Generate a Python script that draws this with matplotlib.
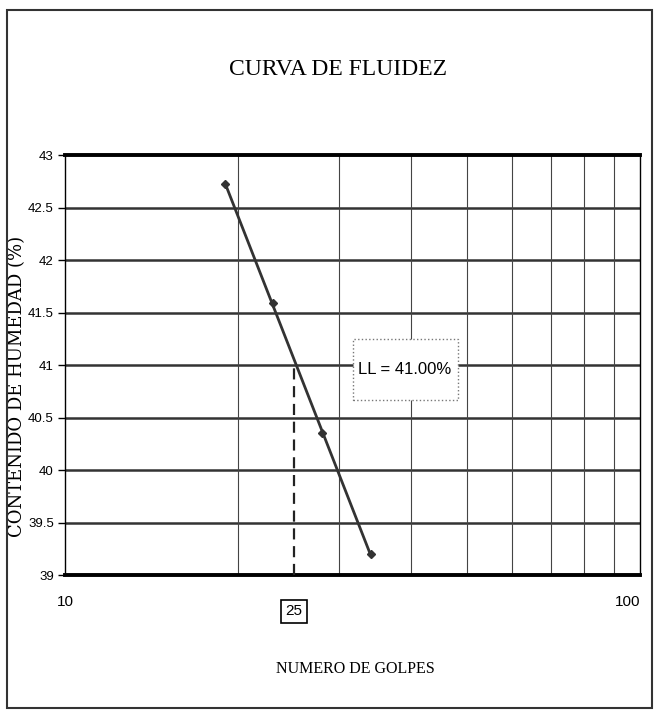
import matplotlib
matplotlib.use("agg")
import matplotlib.pyplot as plt
from matplotlib.patches import Rectangle
import numpy as np

# ensayo de limite liquido
golpes = [19, 23, 28, 34]
humedad = [42.72, 41.59, 40.35, 39.2]
ll_golpes = 25
ll_valor = 41.00
y_ticks = [39, 39.5, 40, 40.5, 41, 41.5, 42, 42.5, 43]
x_grid = [20, 30, 40, 50, 60, 70, 80, 90]

fig = plt.figure(figsize=(6.55, 7.13), dpi=100)
ax = fig.add_axes([0.0992, 0.1935, 0.8778, 0.589])

ax.set_xscale("log")
ax.set_xlim(10, 100)
ax.set_ylim(39, 43)

# grid
for v in y_ticks[1:-1]:
    ax.axhline(v, color="#333333", lw=1.8, zorder=1)
for v in x_grid:
    ax.axvline(v, color="#444444", lw=0.8, zorder=1)

# linea de tendencia (ajuste en escala log)
a, b = np.polyfit(np.log10(golpes), humedad, 1)
xs = np.array([golpes[0], golpes[-1]])
ax.plot(xs, a * np.log10(xs) + b, color="#333333", lw=2, zorder=3)
ax.plot(golpes, humedad, "D", color="#333333", ms=4, zorder=4)

ax.plot([ll_golpes, ll_golpes], [39, ll_valor], color="#222222", lw=1.6,
        ls=(0, (5, 3)), zorder=3)

# cuadro LL
ax.add_patch(Rectangle((0.501, 0.417), 0.182, 0.145, transform=ax.transAxes,
                       fc="white", ec="#777777", ls=":", lw=1, zorder=5))
ax.text(0.59, 0.49, "LL = %.2f%%" % ll_valor, transform=ax.transAxes, fontsize=12,
        family="Liberation Sans", ha="center", va="center", zorder=6)

ax.spines["top"].set_linewidth(2.8)
ax.spines["bottom"].set_linewidth(2.8)
ax.spines["left"].set_linewidth(1)
ax.spines["right"].set_linewidth(1)

ax.set_yticks(y_ticks)
ax.set_yticklabels([("%g" % v) for v in y_ticks], family="Liberation Sans", fontsize=9.5)
ax.tick_params(axis="y", length=5, width=1, pad=3)
ax.set_xticks([])
ax.minorticks_off()
ax.set_xticks([], minor=True)

tf = ax.get_xaxis_transform()
ax.text(10, -0.065, "10", transform=tf, ha="center", va="center", fontsize=11,
        family="Liberation Sans")
ax.text(100, -0.065, "100", transform=tf, ha="right", va="center", fontsize=11,
        family="Liberation Sans")
ax.text(ll_golpes, -0.086, "25", transform=tf, ha="center", va="center", fontsize=11,
        family="Liberation Sans",
        bbox=dict(boxstyle="square,pad=0.3", fc="white", ec="black", lw=1.2))

ax.set_xlabel("NUMERO DE GOLPES", family="Liberation Serif", fontsize=11.5)
ax.xaxis.set_label_coords(0.505, -0.205)
ax.set_ylabel("CONTENIDO DE HUMEDAD (%)", family="DejaVu Serif", fontsize=13)
ax.yaxis.set_label_coords(-0.068, 0.45)

fig.text(0.516, 0.903, "CURVA DE FLUIDEZ", family="Liberation Serif", fontsize=17,
         ha="center", va="center")

# marco exterior
fig.patches.append(Rectangle((0.011, 0.007), 0.985, 0.979, transform=fig.transFigure,
                             fill=False, ec="#333333", lw=1.5))

fig.savefig("out.png", dpi=100)
